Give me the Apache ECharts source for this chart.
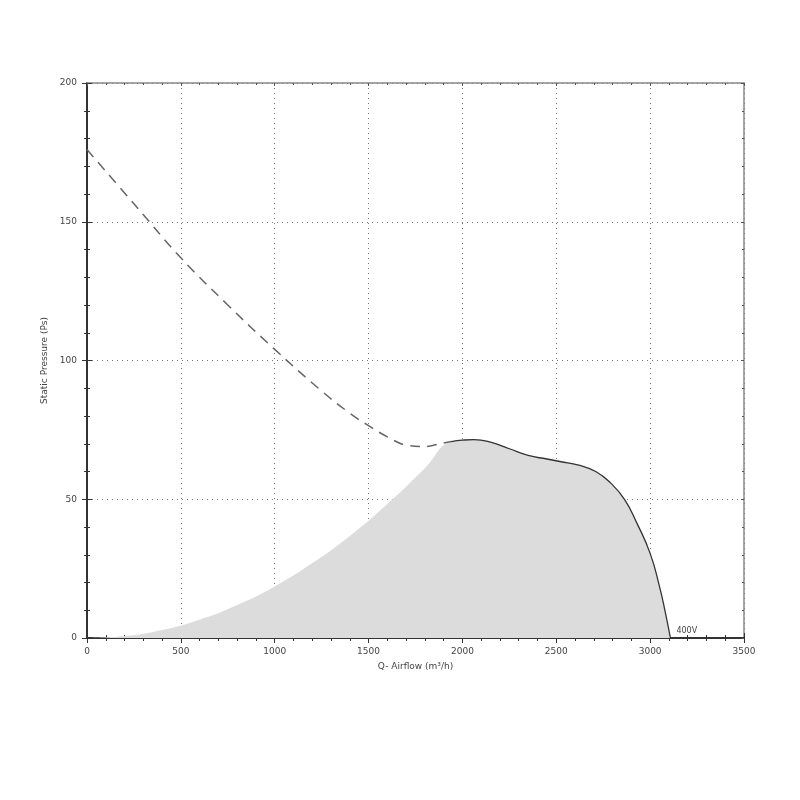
<!DOCTYPE html>
<html>
<head>
<meta charset="utf-8">
<script src="https://cdn.jsdelivr.net/npm/echarts@6/dist/echarts.min.js"></script>
<style>html,body{margin:0;padding:0;background:#fff}#c{width:800px;height:800px}</style>
</head>
<body>
<div id="c"></div>
<script>
// Dashed fan curve (left of operating point) [airflow, pressure]
const dashedFlow = [0, 250, 500, 750, 1000, 1250, 1400, 1500, 1600, 1700, 1800, 1880, 1940];
const dashedPres = [176, 156.5, 137, 120, 104, 89, 81, 76.5, 72.5, 69.5, 69, 70, 70.8];
// Solid fan curve (400V)
const fanFlow = [1940, 2000, 2060, 2150, 2250, 2350, 2450, 2520, 2620, 2710, 2790, 2865, 2930, 3000, 3050, 3080, 3108];
const fanPres = [70.8, 71.3, 71.5, 70.6, 68.2, 65.8, 64.5, 63.6, 62.3, 60, 55.8, 49.8, 41.3, 30.5, 18.5, 9.5, 0];
// System curve (shaded boundary) up to operating point
const sysFlow = [0, 200, 400, 600, 800, 1000, 1200, 1400, 1600, 1800, 1940];
const sysPres = [0, 0.7, 2.9, 6.6, 11.9, 18.6, 27, 36.8, 48.3, 61.2, 70.8];
const xTicks = [0, 500, 1000, 1500, 2000, 2500, 3000, 3500];
const yTicks = [0, 50, 100, 150, 200];
const curveLabel = '400V';

const zip = (a, b) => a.map((v, i) => [v, b[i]]);
const fillData = zip(sysFlow, sysPres).concat(zip(fanFlow, fanPres).slice(1));

const txt = {color: '#444', fontSize: 9, fontFamily: 'DejaVu Sans'};
const xMin = xTicks[0], xMax = xTicks[xTicks.length - 1];
const yMin = yTicks[0], yMax = yTicks[yTicks.length - 1];

function xa(extra) {
  return Object.assign({
    type: 'value', min: xMin, max: xMax, interval: 500,
    axisLabel: {show: false},
    splitLine: {show: false},
    axisLine: {show: false, onZero: false},
    axisTick: {show: true, length: 5, lineStyle: {color: '#333', width: 1}},
    minorTick: {show: true, splitNumber: 5, length: 3, lineStyle: {color: '#333'}}
  }, extra);
}
function ya(extra) {
  return Object.assign({
    type: 'value', min: yMin, max: yMax, interval: 50,
    axisLabel: {show: false},
    splitLine: {show: false},
    axisLine: {show: false, onZero: false},
    axisTick: {show: true, length: 5, lineStyle: {color: '#333', width: 1}},
    minorTick: {show: true, splitNumber: 5, length: 3, lineStyle: {color: '#333'}}
  }, extra);
}

const option = {
  animation: false,
  backgroundColor: '#fff',
  grid: {left: 87, right: 56, top: 83, bottom: 162, containLabel: false},
  xAxis: [
    xa({
      position: 'bottom',
      name: 'Q- Airflow (m³/h)', nameLocation: 'middle', nameGap: 24,
      nameTextStyle: txt,
      axisLabel: Object.assign({show: true, margin: 9, formatter: v => String(v)}, txt),
      axisLine: {show: true, onZero: false, lineStyle: {color: '#333', width: 2}},
      splitLine: {show: true, lineStyle: {color: '#777', type: [1, 4], width: 1}}
    }),
    xa({position: 'top', axisLine: {show: true, onZero: false, lineStyle: {color: '#888', width: 1.5}},
        axisTick: {show: true, inside: true, length: 3, lineStyle: {color: '#555'}},
        minorTick: {show: true, splitNumber: 5, length: 2, lineStyle: {color: '#555'}}}),
    xa({position: 'bottom', axisLine: {show: false, onZero: false},
        axisTick: {show: true, inside: true, length: 5, lineStyle: {color: '#333'}},
        minorTick: {show: true, splitNumber: 5, length: 3, lineStyle: {color: '#333'}}})
  ],
  yAxis: [
    ya({
      position: 'left',
      name: 'Static Pressure (Ps)', nameLocation: 'middle', nameGap: 33,
      nameTextStyle: txt,
      axisLabel: Object.assign({show: true, margin: 10, formatter: v => String(v)}, txt),
      axisLine: {show: true, onZero: false, lineStyle: {color: '#333', width: 2}},
      splitLine: {show: true, lineStyle: {color: '#777', type: [1, 4], width: 1}}
    }),
    ya({position: 'right', axisLine: {show: true, onZero: false, lineStyle: {color: '#888', width: 1.5}},
        axisTick: {show: true, inside: true, length: 3, lineStyle: {color: '#555'}},
        minorTick: {show: true, splitNumber: 5, length: 2, lineStyle: {color: '#555'}}}),
    ya({position: 'left', axisLine: {show: false, onZero: false},
        axisTick: {show: true, inside: true, length: 5, lineStyle: {color: '#333'}},
        minorTick: {show: true, splitNumber: 5, length: 3, lineStyle: {color: '#333'}}})
  ],
  series: [
    {
      type: 'line', data: fillData, smooth: 0.5, symbol: 'none',
      lineStyle: {width: 0, opacity: 0},
      areaStyle: {color: '#dcdcdc', opacity: 1},
      z: 1
    },
    {
      type: 'line', data: zip(dashedFlow, dashedPres), smooth: 0.4, symbol: 'none',
      lineStyle: {color: '#666', width: 1.5, type: [10, 7]},
      z: 3
    },
    {
      type: 'line', data: zip(fanFlow, fanPres), smooth: 0.5, symbol: 'none',
      lineStyle: {color: '#333', width: 1.3},
      endLabel: {show: true, formatter: curveLabel, color: '#444', fontSize: 8,
                 fontFamily: 'DejaVu Sans', offset: [-2, -7]},
      z: 4
    }
  ]
};
echarts.init(document.getElementById('c'), null, {renderer: 'canvas'}).setOption(option);
</script>
</body>
</html>
